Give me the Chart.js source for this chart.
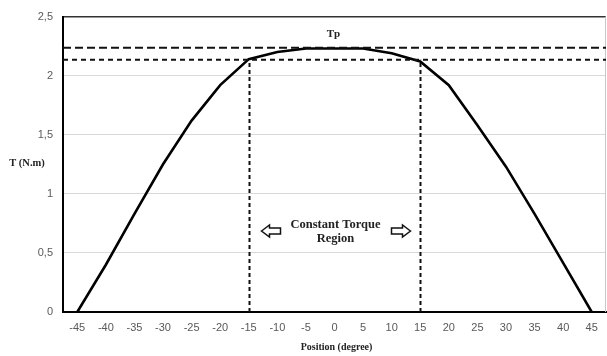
<!DOCTYPE html>
<html>
<head>
<meta charset="utf-8">
<script src="https://cdn.jsdelivr.net/npm/chart.js@4/dist/chart.umd.min.js"></script>
<style>
  html, body { margin: 0; padding: 0; background: #fff; }
  #wrap { width: 607px; height: 356px; }
</style>
</head>
<body>
<div id="wrap"><canvas id="myChart" width="607" height="356"></canvas></div>
<script>
// position (degree) and torque (N.m)
const positions = ['-45', '-40', '-35', '-30', '-25', '-20', '-15', '-10', '-5', '0',
                   '5', '10', '15', '20', '25', '30', '35', '40', '45'];
const torque = [0, 0.40, 0.83, 1.25, 1.62, 1.92, 2.14, 2.20, 2.23, 2.23,
                2.23, 2.19, 2.12, 1.92, 1.58, 1.23, 0.83, 0.415, 0];
const peakTorque = 2.237;      // Tp
const constTorque = 2.134;     // lower dashed level
const regionBounds = ['-15', '15'];

const serif = '"Liberation Serif", "DejaVu Serif", serif';

function hollowArrow(ctx, x, y, dir) {
    // dir = -1 points left, 1 points right
    ctx.save();
    ctx.translate(x, y);
    ctx.scale(dir, 1);
    ctx.beginPath();
    ctx.moveTo(10, 0);
    ctx.lineTo(2, -6);
    ctx.lineTo(2, -3);
    ctx.lineTo(-9, -3);
    ctx.lineTo(-9, 3);
    ctx.lineTo(2, 3);
    ctx.lineTo(2, 6);
    ctx.closePath();
    ctx.fillStyle = '#fff';
    ctx.fill();
    ctx.lineWidth = 1.5;
    ctx.strokeStyle = '#111';
    ctx.stroke();
    ctx.restore();
}

const overlay = {
    id: 'overlay',
    afterDatasetsDraw(chart) {
        const ctx = chart.ctx;
        const area = chart.chartArea;
        const x = chart.scales.x;
        const y = chart.scales.y;

        ctx.save();
        // right frame line
        ctx.strokeStyle = '#c8c8c8';
        ctx.lineWidth = 1;
        ctx.beginPath();
        ctx.moveTo(area.right - 0.5, area.top);
        ctx.lineTo(area.right - 0.5, area.bottom);
        ctx.stroke();

        // horizontal dashed levels
        ctx.strokeStyle = '#111';
        ctx.lineWidth = 2;
        const yTp = y.getPixelForValue(peakTorque);
        const yC = y.getPixelForValue(constTorque);
        ctx.setLineDash([8, 4]);
        ctx.beginPath();
        ctx.moveTo(area.left, yTp);
        ctx.lineTo(area.right, yTp);
        ctx.stroke();
        ctx.setLineDash([5, 4]);
        ctx.beginPath();
        ctx.moveTo(area.left, yC);
        ctx.lineTo(area.right, yC);
        ctx.stroke();

        // vertical dashed bounds
        ctx.setLineDash([4, 3]);
        regionBounds.forEach(function (b) {
            const px = Math.round(x.getPixelForValue(positions.indexOf(b))) + 0.5;
            ctx.beginPath();
            ctx.moveTo(px, area.bottom);
            ctx.lineTo(px, yC);
            ctx.stroke();
        });
        ctx.setLineDash([]);

        // texts
        const cx = x.getPixelForValue(positions.indexOf('0'));
        ctx.fillStyle = '#222';
        ctx.textAlign = 'center';
        ctx.textBaseline = 'middle';
        ctx.font = 'bold 11px ' + serif;
        ctx.fillText('Tp', cx - 1, 34);

        ctx.font = 'bold 12.5px ' + serif;
        ctx.fillText('Constant Torque', cx + 1, 225);
        ctx.fillText('Region', cx + 1, 239);

        hollowArrow(ctx, cx - 63, 231, -1);
        hollowArrow(ctx, cx + 66, 231, 1);

        ctx.font = 'bold 10.5px ' + serif;
        ctx.fillText('T (N.m)', 27, 163);
        ctx.font = 'bold 10px ' + serif;
        ctx.fillText('Position (degree)', cx + 2, 347);
        ctx.restore();
    }
};

const ctx = document.getElementById('myChart').getContext('2d');

new Chart(ctx, {
    type: 'line',
    data: {
        labels: positions,
        datasets: [{
            label: 'T',
            data: torque,
            borderColor: '#000',
            borderWidth: 2.6,
            pointRadius: 0,
            fill: false,
            tension: 0
        }]
    },
    options: {
        responsive: false,
        animation: false,
        layout: { padding: { top: 14, right: 1, left: 0, bottom: 0 } },
        plugins: {
            legend: { display: false },
            tooltip: { enabled: false }
        },
        scales: {
            x: {
                offset: true,
                grid: { display: false, drawTicks: false },
                border: { color: '#000', width: 2 },
                ticks: {
                    color: '#595959',
                    font: { family: '"Liberation Sans", Arial, sans-serif', size: 11 },
                    padding: 9,
                    maxRotation: 0,
                    autoSkip: false
                },
                afterFit: function (scale) { scale.height = 44; }
            },
            y: {
                min: 0,
                max: 2.5,
                ticks: {
                    stepSize: 0.5,
                    color: '#595959',
                    font: { family: '"Liberation Sans", Arial, sans-serif', size: 11 },
                    padding: 10,
                    callback: function (v) { return String(v).replace('.', ','); }
                },
                grid: {
                    drawTicks: false,
                    color: function (c) { return c.tick && c.tick.value === 2.5 ? '#333' : '#d9d9d9'; },
                    lineWidth: function (c) { return c.tick && c.tick.value === 2.5 ? 1.5 : 1; }
                },
                border: { color: '#000', width: 2 },
                afterFit: function (scale) { scale.width = 63; }
            }
        }
    },
    plugins: [overlay]
});
</script>
</body>
</html>
